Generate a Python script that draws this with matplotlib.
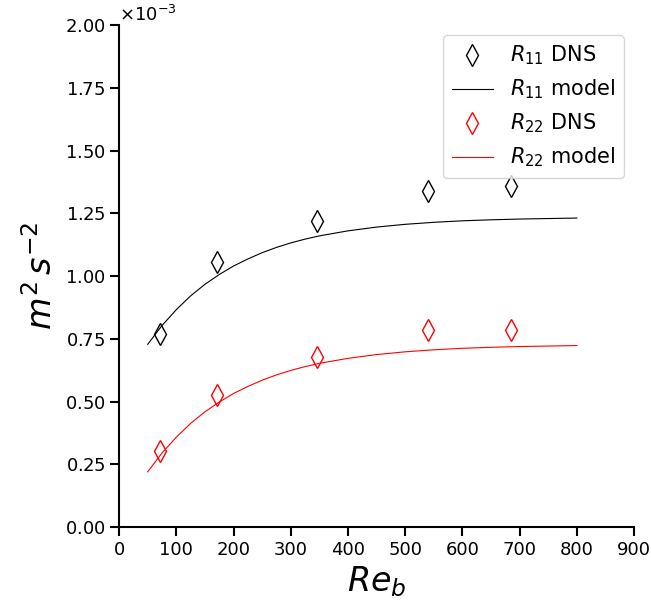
import matplotlib
matplotlib.use("Agg")
import matplotlib.pyplot as plt

# DNS data
re_dns = [72, 171, 345, 540, 685]
r11_dns = [0.769e-3, 1.056e-3, 1.219e-3, 1.339e-3, 1.359e-3]
r22_dns = [0.304e-3, 0.525e-3, 0.676e-3, 0.784e-3, 0.786e-3]

# Model curves
re_model = [50, 75, 100, 125, 150, 175, 200, 225, 250, 275, 300, 325, 350, 400,
            450, 500, 550, 600, 650, 700, 750, 800]
r11_model = [0.728, 0.803, 0.866, 0.921, 0.967, 1.006, 1.040, 1.068, 1.093,
             1.114, 1.132, 1.147, 1.160, 1.180, 1.195, 1.206, 1.214, 1.220,
             1.224, 1.227, 1.229, 1.231]
r22_model = [0.220, 0.295, 0.358, 0.413, 0.459, 0.498, 0.532, 0.560, 0.585,
             0.606, 0.624, 0.639, 0.652, 0.672, 0.687, 0.698, 0.706, 0.712,
             0.716, 0.719, 0.721, 0.723]
r11_model = [v * 1e-3 for v in r11_model]
r22_model = [v * 1e-3 for v in r22_model]

fig = plt.figure(figsize=(6.51, 6.11), dpi=100)
ax = fig.add_axes([0.183, 0.1375, 0.791, 0.8215])

ax.plot(re_dns, r11_dns, linestyle='none', marker='d', markersize=11,
        markerfacecolor='none', markeredgecolor='black', markeredgewidth=1.0,
        label=r'$R_{11}$ DNS')
ax.plot(re_model, r11_model, color='black', linewidth=0.8, label=r'$R_{11}$ model')
ax.plot(re_dns, r22_dns, linestyle='none', marker='d', markersize=11,
        markerfacecolor='none', markeredgecolor='red', markeredgewidth=1.0,
        label=r'$R_{22}$ DNS')
ax.plot(re_model, r22_model, color='red', linewidth=0.8, label=r'$R_{22}$ model')

ax.set_xlim(0, 900)
ax.set_ylim(0, 2e-3)
ax.set_xticks(range(0, 901, 100))
ax.set_yticks([0, 0.25e-3, 0.5e-3, 0.75e-3, 1.0e-3, 1.25e-3, 1.5e-3, 1.75e-3, 2.0e-3])
ax.ticklabel_format(axis='y', style='sci', scilimits=(-3, -3), useMathText=True)
ax.yaxis.get_offset_text().set_fontsize(13)

for s in ['top', 'right']:
    ax.spines[s].set_visible(False)
for s in ['left', 'bottom']:
    ax.spines[s].set_linewidth(1.5)
ax.tick_params(axis='both', labelsize=13, width=1.5, length=6.5)

ax.set_xlabel(r'$Re_b$', fontsize=24)
ax.set_ylabel(r'$m^2\,s^{-2}$', fontsize=24)

ax.legend(loc='upper right', fontsize=15)

fig.savefig('out.png', dpi=100)
